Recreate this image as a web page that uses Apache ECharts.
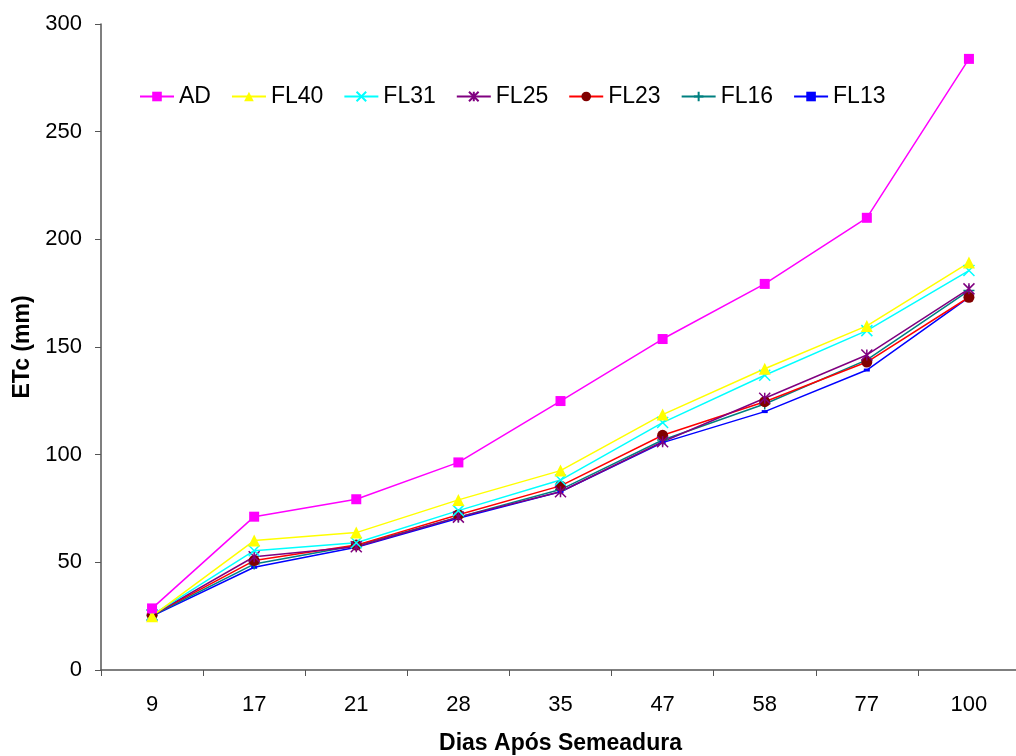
<!DOCTYPE html>
<html><head><meta charset="utf-8">
<script src="https://cdn.jsdelivr.net/npm/echarts@6/dist/echarts.min.js"></script>
<style>html,body{margin:0;padding:0;background:#fff}#c{width:1016px;height:756px}</style>
</head><body><div id="c"></div>
<script>
var categories = ['9','17','21','28','35','47','58','77','100'];
var AD   = [28.6, 71.2, 79.3, 96.4, 124.9, 153.7, 179.3, 210.0, 283.8];
var FL40 = [25.0, 60.1, 63.8, 79.0, 92.6, 118.6, 139.9, 159.8, 189.2];
var FL31 = [25.5, 55.4, 59.1, 74.0, 88.2, 114.9, 136.9, 157.6, 185.5];
var FL25 = [25.5, 52.6, 57.2, 71.0, 82.8, 106.0, 126.2, 146.3, 177.0];
var FL23 = [25.5, 50.8, 58.0, 72.1, 85.5, 109.0, 124.6, 143.0, 173.1];
var FL16 = [25.3, 49.2, 57.8, 71.0, 83.8, 106.8, 123.5, 144.0, 176.2];
var FL13 = [25.0, 47.7, 57.0, 70.5, 82.8, 105.6, 120.0, 139.3, 173.0];
var yTicks = {min: 0, max: 300, interval: 50};

var crossPath = 'path://M0,0L10,10M10,0L0,10';
var starPath = 'path://M0,0L10,10M10,0L0,10M5,0L5,10';
var plusPath = 'path://M5,0L5,10M0,5L10,5';

function mk(name, data, lineColor, symbol, size, item) {
  return {
    name: name, type: 'line', data: data, symbol: symbol, symbolSize: size,
    showAllSymbol: true, animation: false,
    lineStyle: {color: lineColor, width: 1.5},
    itemStyle: item,
    z: 2
  };
}

var font = 'Liberation Sans, Arial, sans-serif';
var chart = echarts.init(document.getElementById('c'));
chart.setOption({
  backgroundColor: '#ffffff',
  animation: false,
  grid: {left: 101, width: 919, top: 24, bottom: 86, containLabel: false, outerBoundsMode: 'none'},
  legend: {
    left: 139, top: 85, padding: 0, itemWidth: 34, itemHeight: 12, itemGap: 20,
    textStyle: {fontFamily: font, fontSize: 23, color: '#000'},
    data: ['AD','FL40','FL31','FL25','FL23','FL16','FL13']
  },
  xAxis: {
    type: 'category', data: categories, boundaryGap: true,
    name: 'Dias Após Semeadura', nameLocation: 'middle', nameGap: 62,
    nameTextStyle: {fontFamily: font, fontSize: 23, fontWeight: 'bold', color: '#000'},
    axisLine: {lineStyle: {color: '#555', width: 1.5}},
    axisTick: {show: true, alignWithLabel: false, length: 6, lineStyle: {color: '#555'}},
    axisLabel: {fontFamily: font, fontSize: 22, color: '#000', margin: 24},
    splitLine: {show: false}
  },
  yAxis: {
    type: 'value', min: yTicks.min, max: yTicks.max, interval: yTicks.interval,
    name: 'ETc (mm)', nameLocation: 'middle', nameGap: 66,
    nameTextStyle: {fontFamily: font, fontSize: 23, fontWeight: 'bold', color: '#000'},
    axisLine: {show: true, lineStyle: {color: '#555', width: 1.5}},
    axisTick: {show: true, length: 6, lineStyle: {color: '#555'}},
    axisLabel: {fontFamily: font, fontSize: 22, color: '#000', margin: 19},
    splitLine: {show: false}
  },
  series: [
    mk('FL13', FL13, '#0000FF', 'rect', [6, 3], {color: '#0000FF'}),
    mk('FL16', FL16, '#008080', plusPath, 11, {color: 'none', borderColor: '#008080', borderWidth: 1.5}),
    mk('FL23', FL23, '#FF0000', 'circle', 11, {color: '#800000'}),
    mk('FL25', FL25, '#800080', starPath, 11, {color: 'none', borderColor: '#800080', borderWidth: 1.5}),
    mk('FL31', FL31, '#00FFFF', crossPath, 11, {color: 'none', borderColor: '#00FFFF', borderWidth: 1.5}),
    mk('FL40', FL40, '#FFFF00', 'triangle', 12, {color: '#FFFF00'}),
    mk('AD', AD, '#FF00FF', 'rect', 10, {color: '#FF00FF'})
  ]
});
</script>
</body></html>
